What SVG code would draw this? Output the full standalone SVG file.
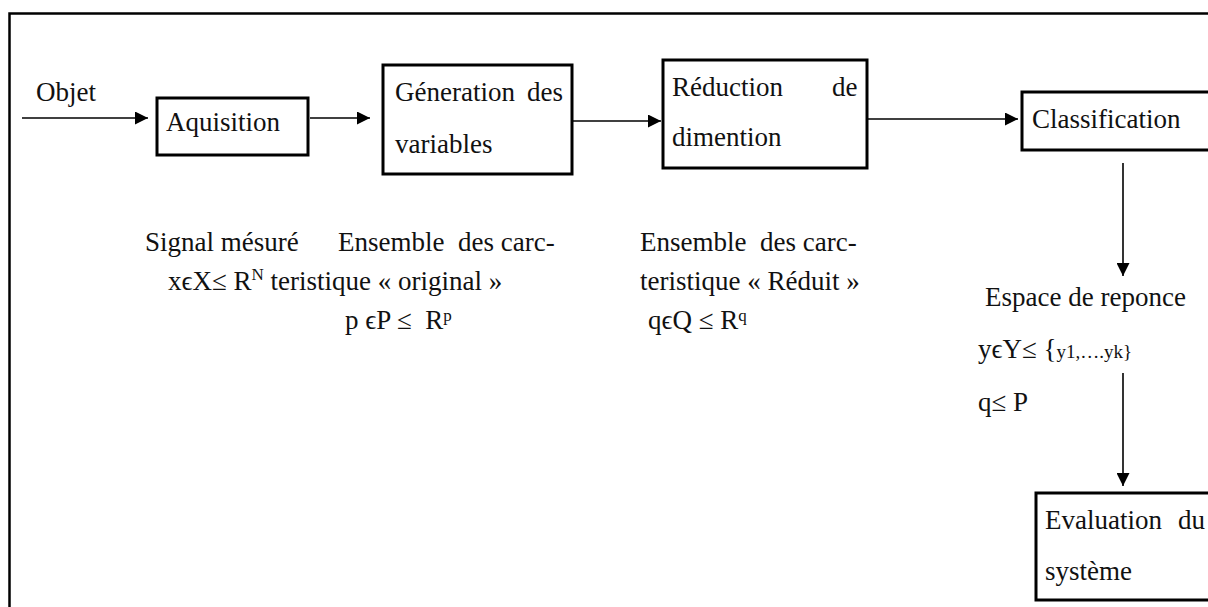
<svg xmlns="http://www.w3.org/2000/svg" width="1208" height="607" viewBox="0 0 1208 607">
<defs>
<style>
text{font-family:"Liberation Serif","Times New Roman",serif;font-size:27px;fill:#111;white-space:pre}
.box{fill:#fff;stroke:#000;stroke-width:3}
.frame{fill:none;stroke:#000;stroke-width:2.5}
.con{fill:none;stroke:#000;stroke-width:1.6;marker-end:url(#ah)}
.sup{font-size:17px}
.sm{font-size:19px}
</style>
<marker id="ah" viewBox="0 0 12 12" refX="12" refY="6" markerWidth="13" markerHeight="13" markerUnits="userSpaceOnUse" orient="auto">
<path d="M0,0 L12,6 L0,12 z" fill="#000"/>
</marker>
</defs>
<rect width="1208" height="607" fill="#fff"/>
<path class="frame" d="M1212,13.5 H9.5 V612"/>

<g id="connectors">
<line class="con" x1="22" y1="118" x2="148" y2="118"/>
<line class="con" x1="310" y1="118" x2="370" y2="118"/>
<line class="con" x1="573" y1="121" x2="661" y2="121"/>
<line class="con" x1="868" y1="119" x2="1018" y2="119"/>
<line class="con" x1="1123" y1="163" x2="1123" y2="276"/>
<line class="con" x1="1123" y1="373" x2="1123" y2="486"/>
</g>

<g id="objet"><text x="36" y="101">Objet</text></g>

<g id="aquisition">
<rect class="box" x="157" y="98" width="151" height="57"/>
<text x="166" y="131">Aquisition</text>
</g>

<g id="generation">
<rect class="box" x="383" y="65" width="189" height="109"/>
<text x="395" y="101">Géneration</text><text x="527" y="101">des</text>
<text x="395" y="153">variables</text>
</g>

<g id="reduction">
<rect class="box" x="663" y="60" width="204" height="108"/>
<text x="672" y="96">Réduction</text><text x="832" y="96">de</text>
<text x="672" y="146">dimention</text>
</g>

<g id="classification">
<rect class="box" x="1022" y="92" width="220" height="58"/>
<text x="1032" y="128">Classification</text>
</g>

<g id="evaluation">
<rect class="box" x="1036" y="493" width="220" height="107"/>
<text x="1045" y="529">Evaluation</text><text x="1178" y="529">du</text>
<text x="1045" y="580">système</text>
</g>

<g id="labels">
<text x="145" y="251">Signal mésuré</text>
<text x="338" y="251">Ensemble  des carc-</text>
<text x="168" y="290">xϵX≤ R<tspan class="sup" dy="-10">N</tspan><tspan dy="10"> teristique « original »</tspan></text>
<text x="345" y="329">p ϵP ≤  R<tspan class="sup" dy="-8">p</tspan></text>

<text x="640" y="251">Ensemble  des carc-</text>
<text x="640" y="290">teristique « Réduit »</text>
<text x="648" y="329">qϵQ ≤ R<tspan class="sup" dy="-8">q</tspan></text>

<text x="985" y="306">Espace de reponce</text>
<text x="978" y="358">yϵY≤ {<tspan class="sm">y1,….yk}</tspan></text>
<text x="978" y="411">q≤ P</text>
</g>
</svg>
